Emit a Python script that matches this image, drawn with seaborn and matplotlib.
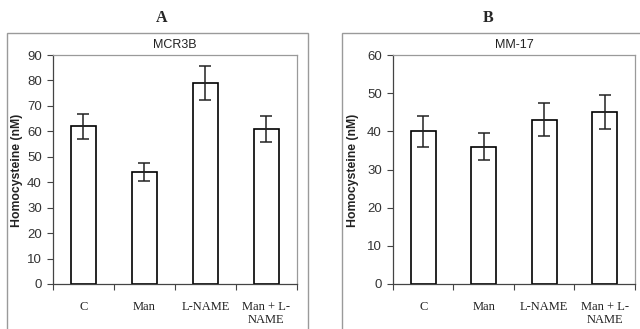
import pandas as pd
import matplotlib.pyplot as plt
import seaborn as sns
from matplotlib.patches import Rectangle

# Data
groups = ["C", "Man", "L-NAME", "Man + L-\nNAME"]
mcr3b_mean = [62, 44, 79, 61]
mcr3b_err = [5, 3.5, 6.5, 5]
mm17_mean = [40, 36, 43, 45]
mm17_err = [4, 3.5, 4.3, 4.5]

sns.set_theme(style="white")
plt.rcParams["font.family"] = ["Liberation Sans", "DejaVu Sans"]

fig = plt.figure(figsize=(6.4, 3.29), dpi=100)

panels = [
    ("A", "MCR3B", mcr3b_mean, mcr3b_err, 90, 10,
     [0.0828, 0.1368, 0.3812, 0.696], (0.011, 0.47), 0.252, 0.026),
    ("B", "MM-17", mm17_mean, mm17_err, 60, 10,
     [0.614, 0.1368, 0.378, 0.696], (0.534, 0.47), 0.762, 0.552),
]

for letter, name, means, errs, ymax, step, pos, box, letter_x, ylab_x in panels:
    # outer chart box
    fig.patches.append(Rectangle((box[0], -0.05), box[1], 0.95,
                                 transform=fig.transFigure, fill=False,
                                 edgecolor="#9a9a9a", linewidth=1.0))
    fig.text(letter_x, 0.945, letter, ha="center", va="center",
             fontsize=11.5, fontweight="bold", family="Liberation Serif")

    ax = fig.add_axes(pos)
    df = pd.DataFrame({"group": groups, "value": means})
    sns.barplot(data=df, x="group", y="value", ax=ax, color="white",
                edgecolor="black", linewidth=1.2, width=0.41, errorbar=None)
    for p in ax.patches:
        p.set_facecolor("white")
    ax.errorbar(range(len(groups)), means, yerr=errs, fmt="none",
                ecolor="#222222", elinewidth=1.1, capsize=4, capthick=1.1)

    ax.set_xlim(-0.5, 3.5)
    ax.set_ylim(0, ymax)
    ax.set_yticks(range(0, ymax + 1, step))
    ax.set_xticks(range(len(groups)))
    ax.set_xticklabels(groups, family="Liberation Serif", fontsize=9,
                       color="#222222", linespacing=1.1)
    ax.set_xticks([-0.5, 0.5, 1.5, 2.5, 3.5], minor=True)
    ax.tick_params(axis="x", which="major", length=0, pad=12)
    ax.tick_params(axis="x", which="minor", length=4, width=0.8,
                   color="#444444", direction="out", bottom=True)
    ax.tick_params(axis="y", length=4, width=0.8, color="#444444",
                   direction="out", left=True, labelsize=9.5,
                   labelcolor="#333333", pad=4)

    ax.set_xlabel("")
    ax.set_ylabel("")
    fig.text(ylab_x, 0.483, "Homocysteine (nM)", rotation=90,
             ha="center", va="center", fontsize=8.8, fontweight="bold",
             color="#222222")
    ax.set_title(name, fontsize=9, color="#222222", pad=5)

    for side in ["left", "bottom"]:
        ax.spines[side].set_color("#444444")
        ax.spines[side].set_linewidth(0.9)
    for side in ["top", "right"]:
        ax.spines[side].set_visible(True)
        ax.spines[side].set_color("#9a9a9a")
        ax.spines[side].set_linewidth(0.9)

fig.savefig("out.png", dpi=100)
